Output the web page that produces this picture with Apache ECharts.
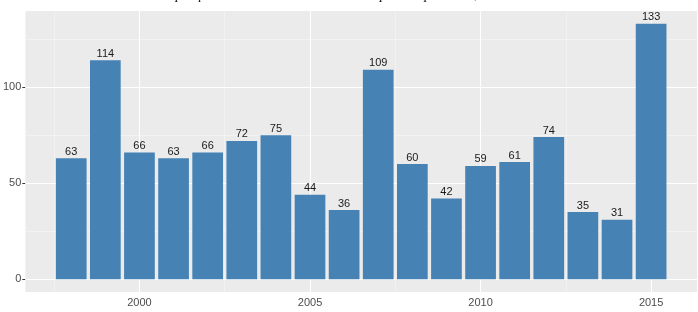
<!DOCTYPE html>
<html>
<head>
<meta charset="utf-8">
<script src="https://cdn.jsdelivr.net/npm/echarts@6/dist/echarts.min.js"></script>
<style>
html,body{margin:0;padding:0;background:#fff;}
#c{width:698px;height:312px;}
</style>
</head>
<body>
<div id="c"></div>
<script>
var years = [1998,1999,2000,2001,2002,2003,2004,2005,2006,2007,2008,2009,2010,2011,2012,2013,2014,2015];
var values = [63,114,66,63,66,72,75,44,36,109,60,42,59,61,74,35,31,133];
var yTicks = [0,50,100];
var yMinor = [25,75,125];
var xTicks = [2000,2005,2010,2015];
var xMinor = [1997.5,2002.5,2007.5,2012.5];
var titleText = "Graphique 1 : Nombre de notices d'expertise publiées, 1998-2015";

var chart = echarts.init(document.getElementById('c'), null, {renderer:'canvas'});
var font = 'Liberation Sans, Arial, sans-serif';

function gl(vals, axis, w, col){
  return vals.map(function(v){ var o={}; o[axis]=v; o.lineStyle={color:col,width:w,type:'solid'}; return o; });
}

var xMin = 1996.655, xMax = 2016.345;
var yMin = -6.65, yMax = 139.65;

chart.setOption({
  animation:false,
  backgroundColor:'#ffffff',
  graphic:[{
    type:'text', left:'center', top:-12,
    style:{text:titleText, font:'italic 15px "Liberation Serif", serif', fill:'#222'}
  }],
  grid:{left:24,right:1,top:11,bottom:20,show:true,backgroundColor:'#EBEBEB',borderWidth:0},
  xAxis:{
    type:'value', min:xMin, max:xMax,
    axisLine:{show:false},
    splitLine:{show:false},
    axisTick:{show:true, customValues:xTicks, length:3, lineStyle:{color:'#333',width:1}},
    axisLabel:{customValues:xTicks, color:'#4D4D4D', fontSize:11, fontFamily:font, margin:5,
      formatter:function(v){return String(Math.round(v));}}
  },
  yAxis:{
    type:'value', min:yMin, max:yMax,
    axisLine:{show:false},
    splitLine:{show:false},
    axisTick:{show:true, customValues:yTicks, length:3, lineStyle:{color:'#333',width:1}},
    axisLabel:{customValues:yTicks, color:'#4D4D4D', fontSize:11, fontFamily:font, margin:4,
      formatter:function(v){return String(Math.round(v));}}
  },
  series:[
    {
      type:'line', data:[], z:1, silent:true,
      markLine:{
        z:1,
        silent:true, symbol:['none','none'], label:{show:false}, animation:false,
        data: gl(yMinor,'yAxis',0.6,'#F7F7F7')
          .concat(gl(xMinor,'xAxis',0.6,'#F7F7F7'))
          .concat(gl(yTicks,'yAxis',1.1,'#FFFFFF'))
          .concat(gl(xTicks,'xAxis',1.1,'#FFFFFF'))
      }
    },
    {
      type:'bar', z:10,
      barWidth:30.7,
      itemStyle:{color:'#4682B4'},
      label:{show:true, position:'top', distance:1, color:'#1a1a1a', fontSize:11, fontFamily:font,
        formatter:function(p){return p.value[1];}},
      data: years.map(function(y,i){return [y, values[i]];})
    }
  ]
});
</script>
</body>
</html>
